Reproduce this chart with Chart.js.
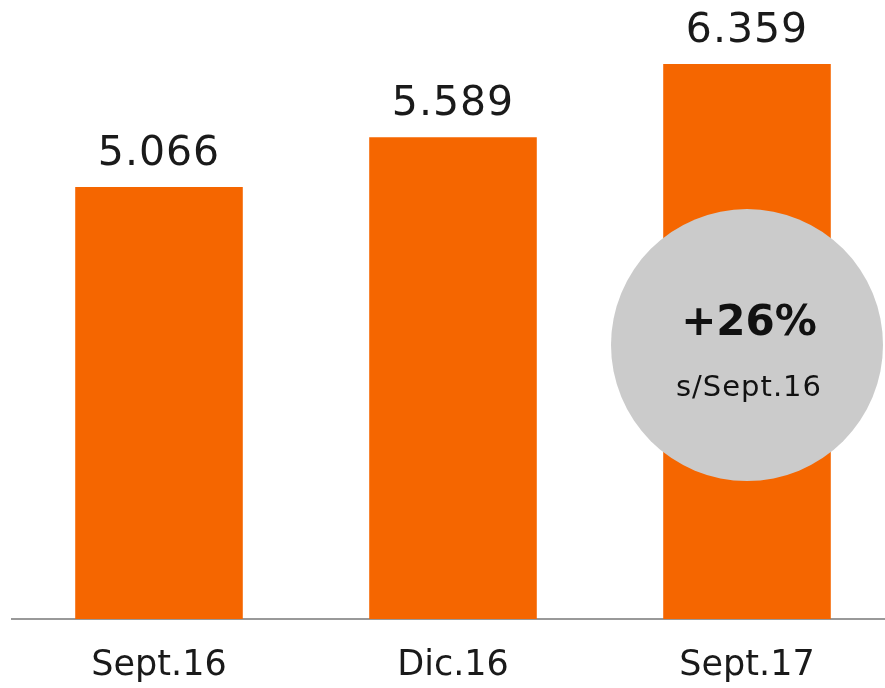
<!DOCTYPE html>
<html>
<head>
<meta charset="utf-8">
<script src="https://cdn.jsdelivr.net/npm/chart.js@4/dist/chart.umd.min.js"></script>
<style>
  html, body { margin: 0; padding: 0; background: #fff; overflow: hidden; }
  #wrap { width: 900px; height: 688px; }
</style>
</head>
<body>
<div id="wrap"><canvas id="barChart"></canvas></div>
<script>
const categories = ["Sept.16", "Dic.16", "Sept.17"];
const values = [5066, 5589, 6359];
const valueLabels = ["5.066", "5.589", "6.359"];
const badgeMain = "+26%";
const badgeSub = "s/Sept.16";

const FONT = "'DejaVu Sans', sans-serif";

// value labels above each bar
const valueLabelPlugin = {
  id: "valueLabels",
  afterDatasetsDraw(chart) {
    const ctx = chart.ctx;
    const meta = chart.getDatasetMeta(0);
    ctx.save();
    ctx.font = "41px " + FONT;
    ctx.fillStyle = "#1a1a1a";
    ctx.textAlign = "center";
    ctx.textBaseline = "alphabetic";
    ctx.letterSpacing = "1px";
    meta.data.forEach((bar, i) => {
      ctx.fillText(valueLabels[i], bar.x, bar.y - 22);
    });
    ctx.restore();
  },
};

// grey growth badge over the last bar
const badgePlugin = {
  id: "badge",
  afterDatasetsDraw(chart) {
    const ctx = chart.ctx;
    const bar = chart.getDatasetMeta(0).data[values.length - 1];
    const cx = bar.x;
    const cy = chart.scales.y.getPixelForValue(3405);
    ctx.save();
    ctx.beginPath();
    ctx.arc(cx, cy, 136, 0, Math.PI * 2);
    ctx.fillStyle = "#cbcbcb";
    ctx.fill();
    ctx.fillStyle = "#111";
    ctx.textAlign = "center";
    ctx.textBaseline = "alphabetic";
    ctx.font = "bold 42px " + FONT;
    ctx.fillText(badgeMain, cx + 2, cy - 10);
    ctx.font = "29px " + FONT;
    ctx.letterSpacing = "1px";
    ctx.fillText(badgeSub, cx + 2, cy + 51);
    ctx.restore();
  },
};

new Chart(document.getElementById("barChart"), {
  type: "bar",
  data: {
    labels: categories,
    datasets: [{
      data: values,
      backgroundColor: "#f56600",
      borderWidth: 0,
      categoryPercentage: 1,
      barPercentage: 0.57,
    }],
  },
  options: {
    responsive: true,
    maintainAspectRatio: false,
    animation: false,
    layout: { padding: { left: 12, right: 6, top: 0, bottom: 0 } },
    plugins: { legend: { display: false }, tooltip: { enabled: false } },
    scales: {
      x: {
        grid: { display: false, drawTicks: false },
        border: { display: true, color: "#999", width: 2 },
        ticks: { color: "#1a1a1a", padding: 26, font: { family: FONT, size: 35 } },
        afterFit: (scale) => { scale.height = 69; },
      },
      y: {
        display: false,
        min: 525,
        max: 7032,
      },
    },
  },
  plugins: [valueLabelPlugin, badgePlugin],
});
</script>
</body>
</html>
